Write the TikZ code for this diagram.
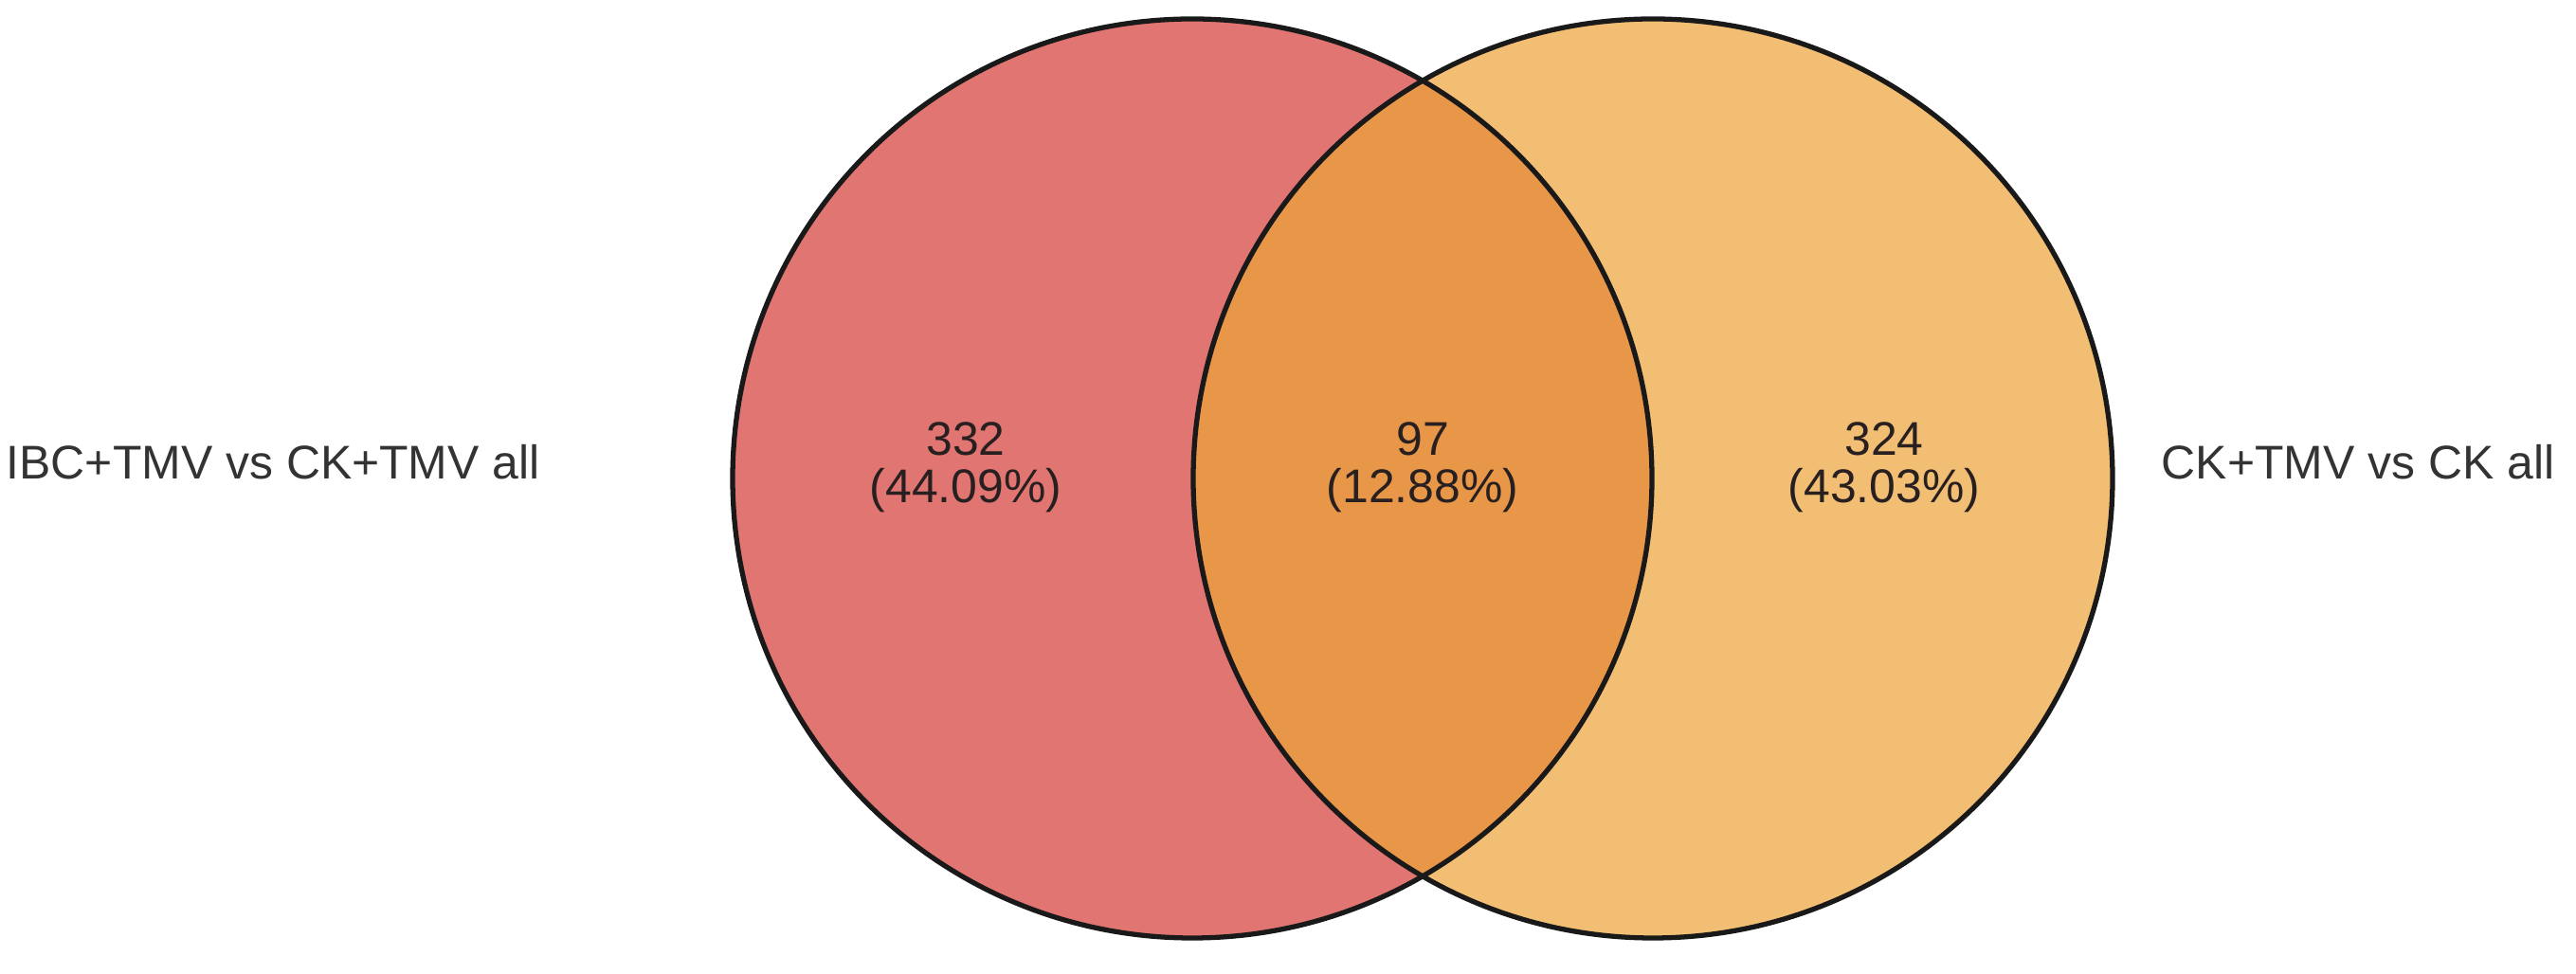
\documentclass[tikz,border=0pt]{standalone}
\usepackage{fontspec}
\setmainfont{Liberation Sans}
\definecolor{setA}{RGB}{224,117,114}
\definecolor{setB}{RGB}{242,190,115}
\definecolor{setAB}{RGB}{232,150,72}
\definecolor{txt}{RGB}{40,32,32}
\begin{document}
\begin{tikzpicture}[
  setline/.style={draw=black!90, line width=1.5pt},
  numtext/.style={anchor=base, inner sep=0pt, text=txt, font=\fontsize{14.2pt}{17pt}\selectfont},
  labeltext/.style={anchor=base west, inner sep=0pt, text=black!80, font=\fontsize{14.2pt}{17pt}\selectfont}
]
\useasboundingbox (0,0) rectangle (27.18,10.28);
% set regions
\fill[setA] (12.58,5.23) circle (4.85);
\fill[setB] (17.44,5.23) circle (4.85);
\begin{scope}
  \clip (12.58,5.23) circle (4.85);
  \fill[setAB] (17.44,5.23) circle (4.85);
\end{scope}
\draw[setline] (12.58,5.23) circle (4.85);
\draw[setline] (17.44,5.23) circle (4.85);
% counts
\node[numtext] (nA) at (10.19,5.47) {332};
\node[numtext] (pA) at (10.19,4.97) {(44.09\%)};
\node[numtext] (nAB) at (15.01,5.47) {97};
\node[numtext] (pAB) at (15.01,4.97) {(12.88\%)};
\node[numtext] (nB) at (19.88,5.47) {324};
\node[numtext] (pB) at (19.88,4.97) {(43.03\%)};
% set labels
\node[labeltext] (labA) at (0.06,5.22) {IBC+TMV vs CK+TMV all};
\node[labeltext] (labB) at (22.80,5.22) {CK+TMV vs CK all};
\end{tikzpicture}
\end{document}
